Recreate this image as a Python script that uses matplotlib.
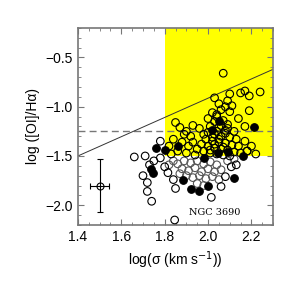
import matplotlib
matplotlib.use("Agg")
import matplotlib.pyplot as plt
from matplotlib.patches import Rectangle
from matplotlib.ticker import MultipleLocator

plt.rcParams['font.family'] = ['Liberation Sans', 'DejaVu Sans']

# open symbols (log sigma, log [OI]/Ha)
open_x = [2.07, 2.17, 2.19, 2.24, 2.15, 2.10, 2.09, 2.03, 2.05, 2.08, 2.11, 2.06, 2.10, 2.02, 2.04,
          2.19, 2.14, 2.17, 1.85, 1.93, 1.90, 1.96, 1.98, 1.92,
          2.00, 2.03, 2.07, 2.09, 2.01, 2.05, 2.08, 2.12, 2.00, 2.03, 2.06, 2.10, 2.13, 1.99, 2.02,
          2.05, 2.08, 2.11, 2.14, 1.97, 2.00, 2.03, 2.06, 2.09, 2.12, 1.95, 1.98, 2.01, 2.04, 2.07,
          2.10, 2.15, 2.18, 2.22, 2.20, 2.17,
          2.04, 2.06, 2.02, 2.08, 2.05, 2.03, 2.07, 2.01, 2.09, 2.04,
          1.82, 1.84, 1.89, 1.87, 1.88, 1.91, 1.93, 1.86, 1.90, 1.94, 1.83,
          1.66, 1.71, 1.78, 1.73, 1.70, 1.72, 1.72, 1.74, 1.75, 1.78,
          1.80, 1.815, 1.84, 1.85, 1.846, 2.015, 2.06, 2.08, 2.107, 2.13, 2.18]
open_y = [-0.66, -0.84, -0.89, -0.85, -0.86, -0.87, -0.94, -0.91, -0.97, -1.00, -0.99, -1.03, -1.05, -1.06, -1.10,
          -1.04, -1.12, -1.20, -1.16, -1.19, -1.25, -1.22, -1.28, -1.30,
          -1.12, -1.15, -1.14, -1.18, -1.20, -1.21, -1.24, -1.25, -1.26, -1.28, -1.30, -1.31, -1.33, -1.33, -1.35,
          -1.36, -1.37, -1.39, -1.40, -1.38, -1.40, -1.42, -1.43, -1.44, -1.46, -1.43, -1.45, -1.47, -1.48, -1.49,
          -1.50, -1.47, -1.45, -1.48, -1.40, -1.35,
          -1.08, -1.19, -1.31, -1.27, -1.33, -1.38, -1.41, -1.44, -1.22, -1.25,
          -1.40, -1.33, -1.28, -1.21, -1.36, -1.40, -1.36, -1.45, -1.47, -1.49, -1.48,
          -1.51, -1.50, -1.35, -1.59, -1.70, -1.77, -1.86, -1.96, -1.55, -1.52,
          -1.61, -1.67, -1.74, -1.83, -2.15, -1.92, -1.81, -1.71, -1.61, -1.59, -1.45]

# open symbols drawn in grey (crowded lower group)
grey_x = [1.86, 1.89, 1.92, 1.95, 1.98, 2.01, 2.04, 1.88, 1.91, 1.94, 1.97, 2.00, 2.03, 2.06,
          1.90, 1.93, 1.96, 1.99, 2.02, 2.05, 1.87, 1.95, 1.98, 2.09, 2.12, 1.84, 1.82]
grey_y = [-1.58, -1.55, -1.57, -1.55, -1.58, -1.56, -1.59, -1.63, -1.65, -1.62, -1.66, -1.63, -1.66, -1.64,
          -1.70, -1.72, -1.70, -1.73, -1.71, -1.74, -1.68, -1.78, -1.80, -1.55, -1.53, -1.55, -1.59]

# filled symbols
fill_x = [2.21, 2.05, 2.02, 1.76, 1.86, 1.745, 1.735, 1.884, 1.92, 1.96, 2.00, 2.12,
          2.045, 2.09, 1.80, 1.98, 2.16]
fill_y = [-1.21, -1.15, -1.24, -1.42, -1.40, -1.67, -1.63, -1.74, -1.84, -1.86, -1.81, -1.72,
          -1.47, -1.46, -1.44, -1.52, -1.50]

# typical error
err_x, err_y = 1.5, -1.8
err_dx, err_dy = 0.045, 0.27

fig = plt.figure(figsize=(2.94, 2.94), dpi=100)
ax = fig.add_axes([0.265, 0.235, 0.664, 0.67])

ax.add_patch(Rectangle((1.8, -1.5), 0.5, 1.3, facecolor='#ffff00', edgecolor='none', zorder=0))
ax.axhline(-1.25, color='#777777', ls='--', lw=1.0, dashes=(5, 3), zorder=1)
ax.plot([1.4, 2.3], [-1.5, -0.62], color='#333333', lw=0.7, zorder=1)

ax.scatter(grey_x, grey_y, s=30, facecolors='none', edgecolors='#555555', linewidths=0.8, zorder=2)
ax.scatter(open_x, open_y, s=30, facecolors='none', edgecolors='k', linewidths=0.8, zorder=3)
ax.scatter(fill_x, fill_y, s=30, facecolors='k', edgecolors='k', linewidths=0.8, zorder=4)

ax.errorbar(err_x, err_y, xerr=err_dx, yerr=err_dy, fmt='o', mfc='none', mec='k', ms=5,
            ecolor='k', elinewidth=0.8, capsize=2, capthick=0.8, mew=0.8)

ax.text(2.03, -2.07, 'NGC 3690', fontsize=7, family='serif', ha='center', va='center')

ax.set_xlim(1.4, 2.3)
ax.set_ylim(-2.2, -0.2)
ax.xaxis.set_major_locator(MultipleLocator(0.2))
ax.xaxis.set_minor_locator(MultipleLocator(0.05))
ax.yaxis.set_major_locator(MultipleLocator(0.5))
ax.yaxis.set_minor_locator(MultipleLocator(0.1))
ax.tick_params(which='both', direction='in', top=True, right=True, color='#777777', labelsize=10)
ax.tick_params(which='major', length=4)
ax.tick_params(which='minor', length=2)
for s in ax.spines.values():
    s.set_color('#777777')
    s.set_linewidth(1.2)

ax.set_xlabel('log(σ (km s$^{-1}$))', fontsize=10)
ax.set_ylabel('log ([OI]/Hα)', fontsize=10)

fig.savefig('out.png', dpi=100)
